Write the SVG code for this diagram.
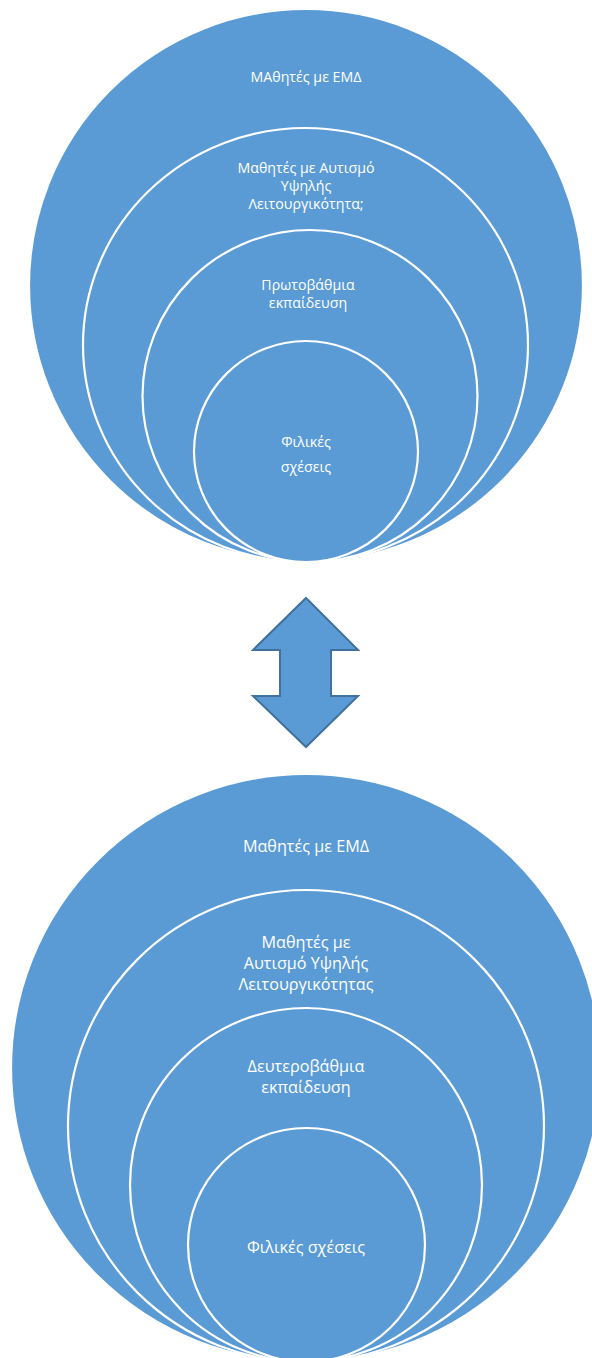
<svg xmlns="http://www.w3.org/2000/svg" width="592" height="1358" viewBox="0 0 592 1358">
<style>
.ring{fill:#5B9BD5;stroke:#FFFFFF;stroke-width:2.2}
.t{fill:#FFFFFF;font-family:"Open Sans","Noto Sans",sans-serif;text-anchor:middle}
.s{font-size:14.2px}
.b{font-size:16.2px}
.arrow{fill:#5B9BD5;stroke:#41719C;stroke-width:2;stroke-linejoin:miter}
</style>
<rect width="592" height="1358" fill="#FFFFFF"/>
<g id="top">
  <g id="top-emd">
    <ellipse class="ring" cx="306" cy="285.5" rx="277" ry="276.5"/>
    <text class="t s" x="306" y="82">ΜΑθητές με ΕΜΔ</text>
  </g>
  <g id="top-autism">
    <ellipse class="ring" cx="305.5" cy="345" rx="222.5" ry="217"/>
    <text class="t s" x="306" y="173">Μαθητές με Αυτισμό</text>
    <text class="t s" x="306" y="191">Υψηλής</text>
    <text class="t s" x="306" y="209">Λειτουργικότητα;</text>
  </g>
  <g id="top-primary">
    <ellipse class="ring" cx="310" cy="396" rx="167.5" ry="166"/>
    <text class="t s" x="308" y="290">Πρωτοβάθμια</text>
    <text class="t s" x="308" y="308">εκπαίδευση</text>
  </g>
  <g id="top-friends">
    <ellipse class="ring" cx="306" cy="451.5" rx="112" ry="110.5"/>
    <text class="t s" x="306" y="447">Φιλικές</text>
    <text class="t s" x="306" y="472">σχέσεις</text>
  </g>
</g>
<g id="connectors">
  <polygon class="arrow" points="306,598 358,650 331,650 331,696 358,696 306,747 253,696 280,696 280,650 253,650"/>
</g>
<g id="bottom">
  <g id="bottom-emd">
    <ellipse class="ring" cx="306" cy="1068" rx="295" ry="294"/>
    <text class="t b" x="306" y="852">Μαθητές με ΕΜΔ</text>
  </g>
  <g id="bottom-autism">
    <ellipse class="ring" cx="306" cy="1126" rx="238" ry="236"/>
    <text class="t b" x="306" y="947.5">Μαθητές με</text>
    <text class="t b" x="306" y="968.5">Αυτισμό Υψηλής</text>
    <text class="t b" x="306" y="989.5">Λειτουργικότητας</text>
  </g>
  <g id="bottom-secondary">
    <ellipse class="ring" cx="306" cy="1185" rx="176" ry="177"/>
    <text class="t b" x="306" y="1072">Δευτεροβάθμια</text>
    <text class="t b" x="306" y="1093">εκπαίδευση</text>
  </g>
  <g id="bottom-friends">
    <ellipse class="ring" cx="306.5" cy="1245" rx="118.5" ry="117"/>
    <text class="t b" x="306" y="1253">Φιλικές σχέσεις</text>
  </g>
</g>
</svg>
